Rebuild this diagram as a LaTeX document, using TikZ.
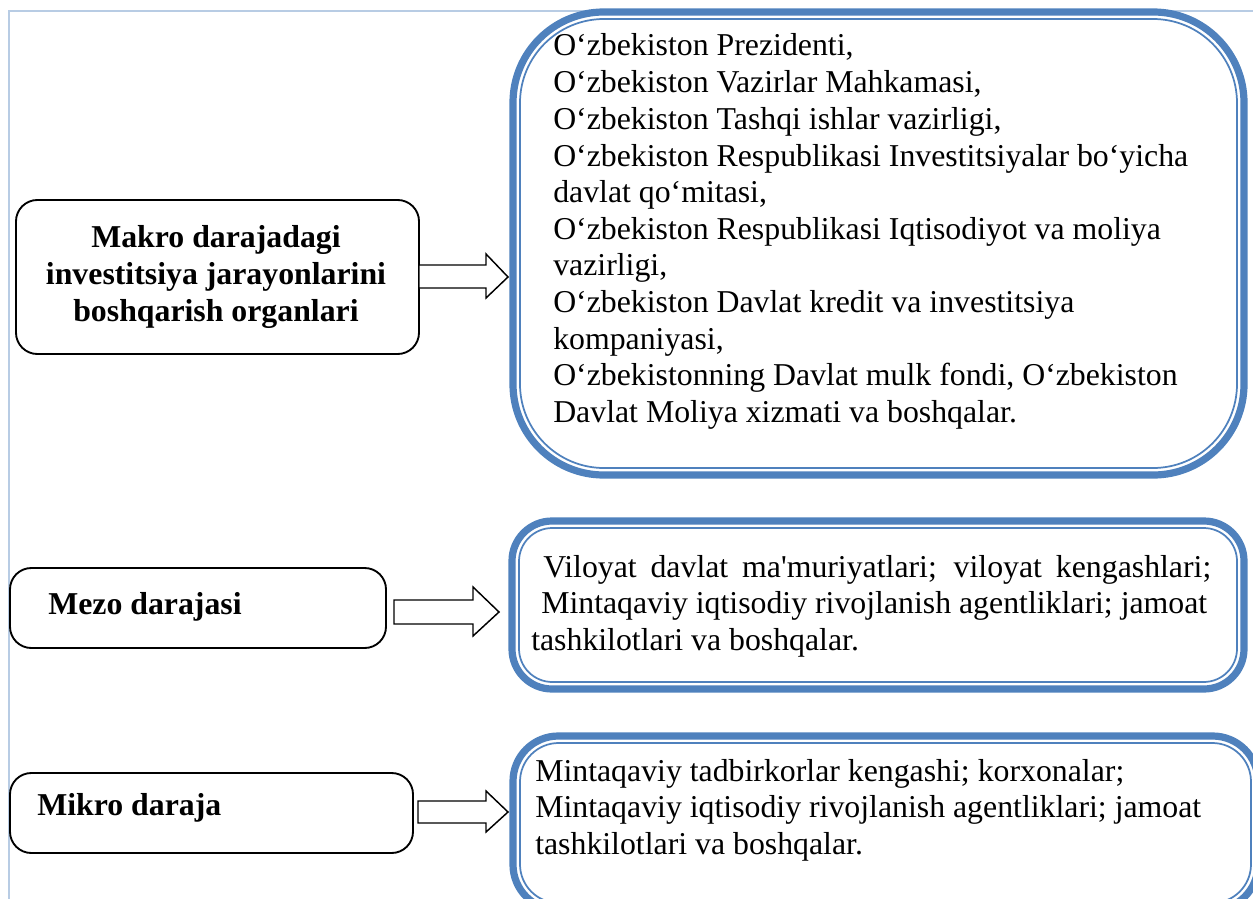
\documentclass[tikz,border=0pt]{standalone}
\usepackage{fontspec}
\setmainfont{Liberation Serif}[Ligatures=TeXOff]
\newcommand{\txtblock}[1]{\begin{tabular}[t]{@{}l@{}}#1\end{tabular}}
\definecolor{boxblue}{HTML}{4F81BD}
\definecolor{framecol}{HTML}{B8CCE4}
\begin{document}
\begin{tikzpicture}[x=0.75pt,y=-0.75pt,
  leftbox/.style={draw=black, line width=1.4pt, rounded corners=16pt, fill=white},
  bluethick/.style={draw=boxblue, line width=5.4pt, fill=white},
  bluethin/.style={draw=boxblue, line width=1.3pt},
  blockarrow/.style={draw=black, line width=1.1pt, fill=white, line join=miter},
  lbl/.style={font=\fontsize{23.85pt}{27.5pt}\selectfont\bfseries, inner sep=0, align=center},
  txt/.style={font=\fontsize{23.85pt}{27.5pt}\selectfont, inner sep=0, anchor=base west}]
\useasboundingbox (0,0) rectangle (1253,899);
\clip (0,0) rectangle (1253,899);
% light frame
\draw[framecol, line width=1.5pt] (1270,11) -- (9,11) -- (9,910);
% left boxes
\draw[leftbox] (16,200) rectangle (419,354);
\draw[leftbox] (10,568) rectangle (386,648);
\draw[leftbox] (10,773) rectangle (413,853);
\node[lbl] (makro) at (216,277) {Makro darajadagi\\investitsiya jarayonlarini\\boshqarish organlari};
\node[lbl, anchor=base west] (mezo) at (48,614) {Mezo darajasi};
\node[lbl, anchor=base west] (mikro) at (37,815) {Mikro daraja};
% block arrows
\draw[blockarrow] (419,265) -- (486,265) -- (486,254) -- (508,277) -- (486,298) -- (486,288) -- (419,288) -- cycle;
\draw[blockarrow] (394,600) -- (473,600) -- (473,587) -- (499,612) -- (473,636) -- (473,624) -- (394,624) -- cycle;
\draw[blockarrow] (418,801) -- (486,801) -- (486,791) -- (508,812) -- (486,832) -- (486,823) -- (418,823) -- cycle;
% right boxes
\draw[bluethick, rounded corners=68pt] (513,12) rectangle (1244,475);
\draw[bluethin, rounded corners=63pt] (520,19) rectangle (1237,468);
\draw[bluethick, rounded corners=30pt] (512,521) rectangle (1244,689);
\draw[bluethin, rounded corners=25pt] (519,528) rectangle (1237,682);
\draw[bluethick, rounded corners=34pt] (513,736) rectangle (1258,910);
\draw[bluethin, rounded corners=29pt] (520,743) rectangle (1251,903);
% right texts
\node[txt] (makrolist) at (553,56) {\txtblock{%
O‘zbekiston Prezidenti,\\
O‘zbekiston Vazirlar Mahkamasi,\\
O‘zbekiston Tashqi ishlar vazirligi,\\
O‘zbekiston Respublikasi Investitsiyalar bo‘yicha\\
davlat qo‘mitasi,\\
O‘zbekiston Respublikasi Iqtisodiyot va moliya\\
vazirligi,\\
O‘zbekiston Davlat kredit va investitsiya\\
kompaniyasi,\\
O‘zbekistonning Davlat mulk fondi, O‘zbekiston\\
Davlat Moliya xizmati va boshqalar.}};
\node[txt] (mezolist) at (531,577) {\txtblock{%
\hspace*{9pt}\hbox to 501pt{Viloyat davlat ma'muriyatlari; viloyat kengashlari;}\\
\hspace*{7.5pt}Mintaqaviy iqtisodiy rivojlanish agentliklari; jamoat\\
tashkilotlari va boshqalar.}};
\node[txt] (mikrolist) at (535,781) {\txtblock{%
Mintaqaviy tadbirkorlar kengashi; korxonalar;\\
Mintaqaviy iqtisodiy rivojlanish agentliklari; jamoat\\
tashkilotlari va boshqalar.}};
\end{tikzpicture}
\end{document}
